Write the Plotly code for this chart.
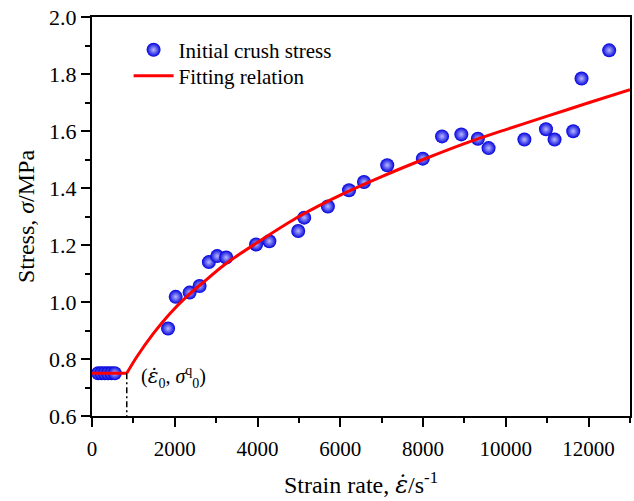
import plotly.graph_objects as go

# Measured initial crush stress versus strain rate
strain_rate = [150, 230, 310, 390, 470, 550,
               1838, 2022, 2359, 2600, 2825, 3025, 3242, 3965, 4285, 4983,
               5128, 5700, 6211, 6572, 7134, 7993, 8458, 8924, 9324, 9582,
               10448, 10970, 11177, 11628, 11829, 12497]
crush_stress = [0.75, 0.75, 0.75, 0.75, 0.75, 0.75,
                0.907, 1.018, 1.033, 1.056, 1.140, 1.161, 1.156, 1.202, 1.213, 1.249,
                1.296, 1.335, 1.392, 1.421, 1.480, 1.503, 1.581, 1.588, 1.573, 1.540,
                1.570, 1.606, 1.570, 1.599, 1.784, 1.883]

# Threshold point (strain rate, quasi-static stress)
E0 = 840
S0 = 0.75

# Fitting relation: plateau below the threshold, rising branch above it
plateau_x = [0, E0]
plateau_y = [S0, S0]
fit_x = [E0, 1080, 1480, 1880, 2280, 2680, 3240, 4200, 5000, 6000,
         7000, 8000, 9000, 10000, 11000, 12000, 13000]
fit_y = [S0, 0.807, 0.889, 0.959, 1.018, 1.068, 1.135, 1.228, 1.300, 1.375,
         1.440, 1.500, 1.556, 1.605, 1.652, 1.699, 1.745]

x_ticks = [0, 2000, 4000, 6000, 8000, 10000, 12000]
y_ticks = [0.6, 0.8, 1.0, 1.2, 1.4, 1.6, 1.8, 2.0]

FONT = "Liberation Serif, Times New Roman, serif"
EPS_DOT = '<span style="font-family:DejaVu Serif"><i>ε̇</i></span>'

fig = go.Figure()

fig.add_trace(go.Scatter(
    x=strain_rate, y=crush_stress, mode="markers",
    name="Initial crush stress", legend="legend",
    marker=dict(size=14, color="#0000dd",
                gradient=dict(type="radial", color="#b8b8ff"),
                line=dict(width=0)),
))

fig.add_trace(go.Scatter(
    x=plateau_x, y=plateau_y, mode="lines", showlegend=False,
    line=dict(color="#ff0000", width=3),
))
fig.add_trace(go.Scatter(
    x=fit_x, y=fit_y, mode="lines", name="Fitting relation",
    legend="legend2",
    line=dict(color="#ff0000", width=3, shape="spline", smoothing=0.8),
))

# Dash-dot drop line at the threshold strain rate
fig.add_trace(go.Scatter(
    x=[E0, E0], y=[S0, 0.58], mode="lines", showlegend=False,
    cliponaxis=False,
    line=dict(color="black", width=1.5, dash="6px,3px,2px,3px"),
))

fig.add_annotation(
    x=E0, y=S0, xref="x", yref="y", xanchor="left", yanchor="middle",
    xshift=12, yshift=-4, showarrow=False,
    text="(" + EPS_DOT + "<sub>0</sub>, <i>σ</i><sup>q</sup><sub>0</sub>)",
    font=dict(family=FONT, size=20, color="black"),
)

axis_common = dict(
    showgrid=False, zeroline=False, showline=True, linecolor="black",
    linewidth=2, mirror=True, ticks="outside", ticklen=9, tickwidth=2,
    tickcolor="black",
)

fig.update_xaxes(
    range=[0, 13000], tickvals=x_ticks,
    ticktext=[str(v) for v in x_ticks], ticklabelstandoff=4,
    tickfont=dict(family=FONT, size=21, color="black"),
    minor=dict(ticks="outside", ticklen=5, tickwidth=2, dtick=1000,
               tick0=0, tickcolor="black"),
    title=dict(text="Strain rate, " + EPS_DOT + "/s<sup>-1</sup>",
               font=dict(family=FONT, size=24, color="black"), standoff=16),
    **axis_common,
)
fig.update_yaxes(
    range=[0.6, 2.0], tickvals=y_ticks,
    ticktext=[f"{v:.1f}" for v in y_ticks],
    tickfont=dict(family=FONT, size=22, color="black"),
    minor=dict(ticks="outside", ticklen=5, tickwidth=2, dtick=0.1,
               tick0=0.6, tickcolor="black"),
    title=dict(text="Stress, <i>σ</i>/MPa",
               font=dict(family=FONT, size=24, color="black"), standoff=8),
    **axis_common,
)

legend_common = dict(
    xanchor="left", yanchor="middle", bgcolor="rgba(0,0,0,0)", borderwidth=0,
    font=dict(family=FONT, size=21, color="black"), itemwidth=40,
)

fig.update_layout(
    width=634, height=501,
    margin=dict(l=92, r=2, t=17, b=85),
    paper_bgcolor="white", plot_bgcolor="white",
    legend=dict(x=0.068, y=0.917, **legend_common),
    legend2=dict(x=0.068, y=0.852, **legend_common),
    showlegend=True,
)

fig.write_html("out.html")
